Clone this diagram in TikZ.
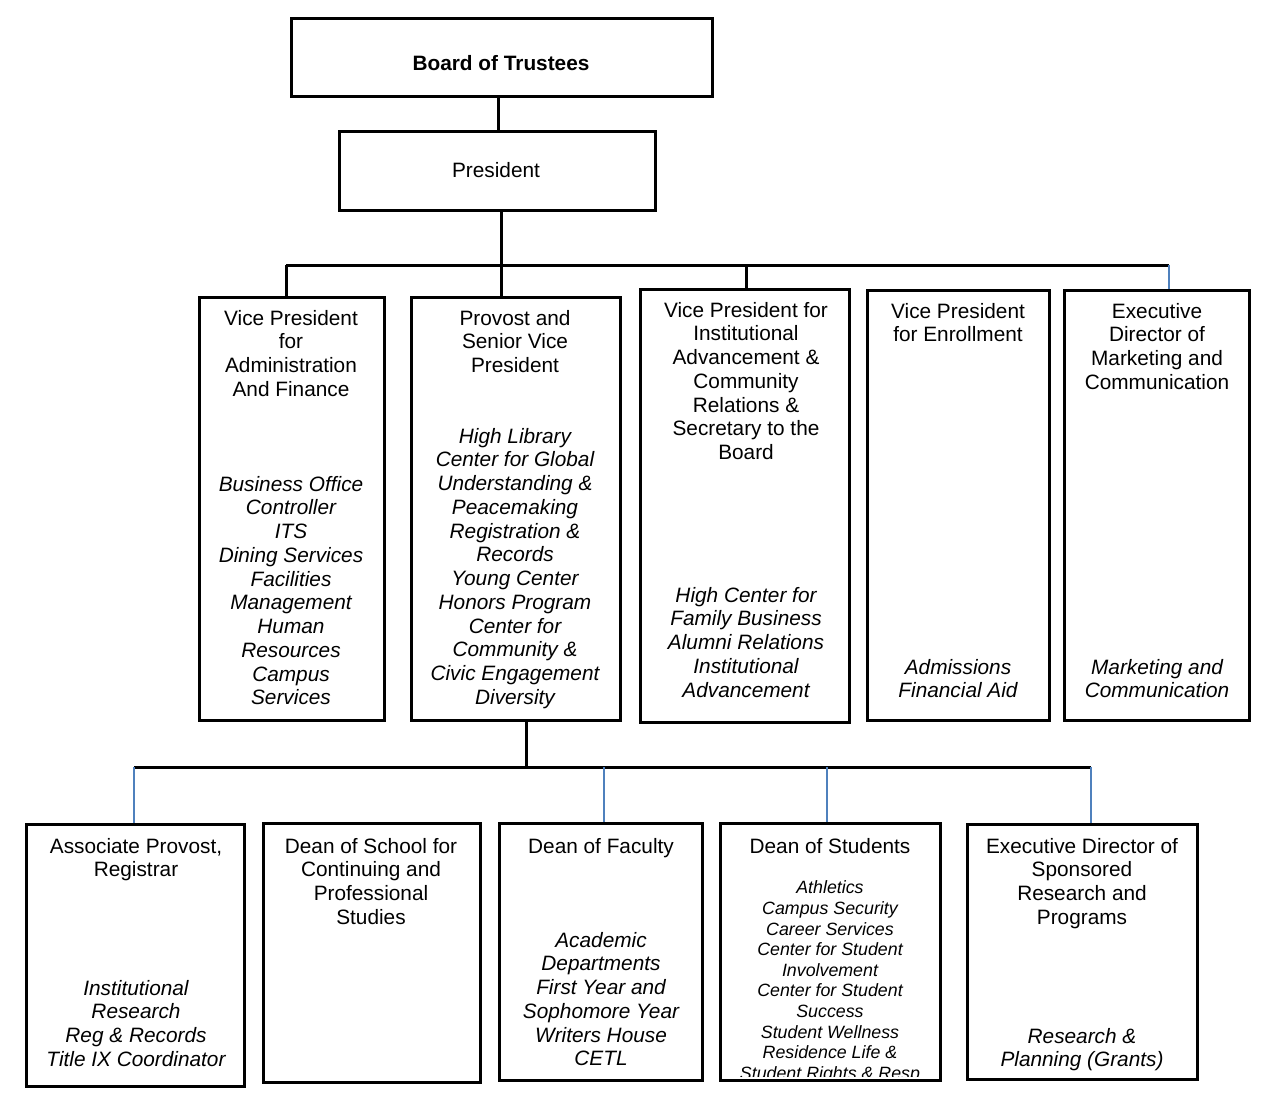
\documentclass[tikz,border=0pt]{standalone}
\usepackage{fontspec}
\setmainfont{Liberation Sans}
\usetikzlibrary{fit}
\definecolor{linkblue}{RGB}{79,129,189}
\begin{document}
\begin{tikzpicture}[x=0.5pt,y=-0.5pt,
  box/.style={draw,line width=1.5pt,inner sep=0pt},
  hd/.style={anchor=north,inner sep=0pt,align=center,font=\fontsize{10.4}{11.88}\selectfont},
  itl/.style={anchor=north,inner sep=0pt,align=center,font=\fontsize{10.4}{11.88}\selectfont\itshape},
  sml/.style={anchor=north,inner sep=0pt,align=center,font=\fontsize{8.9}{10.3}\selectfont\itshape},
  conn/.style={line width=1.5pt},
  bconn/.style={line width=0.8pt,draw=linkblue}]
\useasboundingbox[fill=white] (0,0) rectangle (1262,1105);

% ---- boxes ----
\node[box,fit={(291,18) (712,96)}] (bot) {};
\node[box,fit={(339,131) (655,210)}] (pres) {};
\node[box,fit={(199,297) (384,720)}] (vpa) {};
\node[box,fit={(411,297) (620,720)}] (prov) {};
\node[box,fit={(640,289) (849,722)}] (vpi) {};
\node[box,fit={(867,290) (1049,720)}] (vpe) {};
\node[box,fit={(1064,290) (1249,720)}] (edm) {};
\node[box,fit={(26,824) (244,1086)}] (apr) {};
\node[box,fit={(263,823) (480,1082)}] (dcp) {};
\node[box,fit={(499,823) (702,1080)}] (dof) {};
\node[box,fit={(720,823) (940,1080)}] (dos) {};
\node[box,fit={(967,824) (1197,1079)}] (eds) {};

% ---- texts ----
\node[font=\fontsize{10.4}{11.88}\selectfont\bfseries,inner sep=0pt] (tbot) at (501,63) {Board of Trustees};
\node[font=\fontsize{10.4}{11.88}\selectfont,inner sep=0pt] (tpres) at (496,170) {President};

\node[hd] (tvpa) at (291,308) {\strut Vice President\\for\\Administration\\And Finance};
\node[itl] (ivpa) at (291,474) {\strut Business Office\\Controller\\ITS\\Dining Services\\Facilities\\Management\\Human\\Resources\\Campus\\Services};

\node[hd] (tprov) at (515,308) {\strut Provost and\\Senior Vice\\President};
\node[itl] (iprov) at (515,426) {\strut High Library\\Center for Global\\Understanding \&\\Peacemaking\\Registration \&\\Records\\Young Center\\Honors Program\\Center for\\Community \&\\Civic Engagement\\Diversity};

\node[hd] (tvpi) at (746,300) {\strut Vice President for\\Institutional\\Advancement \&\\Community\\Relations \&\\Secretary to the\\Board};
\node[itl] (ivpi) at (746,585) {\strut High Center for\\Family Business\\Alumni Relations\\Institutional\\Advancement};

\node[hd] (tvpe) at (958,301) {\strut Vice President\\for Enrollment};
\node[itl] (ivpe) at (958,657) {\strut Admissions\\Financial Aid};

\node[hd] (tedm) at (1157,301) {\strut Executive\\Director of\\Marketing and\\Communication};
\node[itl] (iedm) at (1157,657) {\strut Marketing and\\Communication};

\node[hd] (tapr) at (136,836) {\strut Associate Provost,\\Registrar};
\node[itl] (iapr) at (136,978) {\strut Institutional\\Research\\Reg \& Records\\Title IX Coordinator};

\node[hd] (tdcp) at (371,836) {\strut Dean of School for\\Continuing and\\Professional\\Studies};

\node[hd] (tdof) at (601,836) {\strut Dean of Faculty};
\node[itl] (idof) at (601,930) {\strut Academic\\Departments\\First Year and\\Sophomore Year\\Writers House\\CETL};

\node[hd] (tdos) at (830,836) {\strut Dean of Students};
\begin{scope}
\clip (722,825) rectangle (938,1076);
\node[sml] (idos) at (830,879) {\strut Athletics\\Campus Security\\Career Services\\Center for Student\\Involvement\\Center for Student\\Success\\Student Wellness\\Residence Life \&\\Student Rights \& Resp};
\end{scope}

\node[hd] (teds) at (1082,836) {\strut Executive Director of\\Sponsored\\Research and\\Programs};
\node[itl] (ieds) at (1082,1026) {\strut Research \&\\Planning (Grants)};

% ---- connector coordinates ----
\coordinate (j0) at (498,0);
\coordinate (b1) at (286,265);
\coordinate (b2) at (501,265);
\coordinate (b3) at (746,265);
\coordinate (b4) at (1169,265);
\coordinate (d0) at (526,767);
\coordinate (d1) at (134,767);
\coordinate (d2) at (604,767);
\coordinate (d3) at (827,767);
\coordinate (d4) at (1091,767);

% ---- connectors ----
\draw[conn] (bot.south -| j0) -- (pres.north -| j0);
\draw[conn] (pres.south -| b2) -- (b2);
\draw[conn] (b1) -- (b4);
\draw[conn] (b1) -- (b1 |- vpa.north);
\draw[conn] (b2) -- (b2 |- prov.north);
\draw[conn] (b3) -- (b3 |- vpi.north);
\draw[bconn] (b4) -- (b4 |- edm.north);

\draw[conn] (prov.south -| d0) -- (d0);
\draw[conn] (d1) -- (d4);
\draw[bconn] (d1) -- (d1 |- apr.north);
\draw[bconn] (d2) -- (d2 |- dof.north);
\draw[bconn] (d3) -- (d3 |- dos.north);
\draw[bconn] (d4) -- (d4 |- eds.north);
\end{tikzpicture}
\end{document}
